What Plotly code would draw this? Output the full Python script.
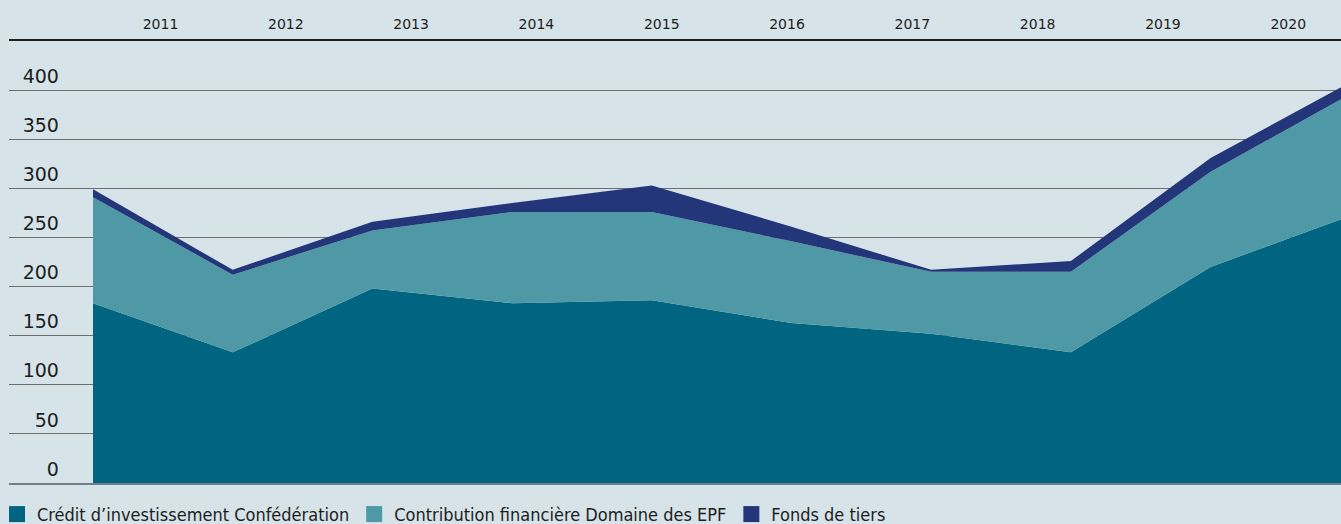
import plotly.graph_objects as go

years = [2011, 2012, 2013, 2014, 2015, 2016, 2017, 2018, 2019, 2020]
credit = [183, 133, 198, 183, 186, 163, 152, 133, 220, 272]
contribution = [108, 79, 59, 93, 90, 83, 63, 82, 97, 124]
fonds = [8, 5, 9, 9, 27, 15, 2, 11, 14, 12]
y_ticks = [0, 50, 100, 150, 200, 250, 300, 350, 400]
year_labels = [str(y) for y in years]

names = ["Crédit d’investissement Confédération",
         "Contribution financière Domaine des EPF",
         "Fonds de tiers"]
colors = ["#016581", "#4f98a6", "#24367a"]
series = [credit, contribution, fonds]

BG = "#d6e4ea"
TXT = "#1d1d1b"
FONT = "DejaVu Sans"

fig = go.Figure()
for name, col, vals in zip(names, colors, series):
    fig.add_trace(go.Scatter(x=years, y=vals, stackgroup="one", mode="none",
                             fillcolor=col, name=name, showlegend=False,
                             hoverinfo="x+y+name"))
# legend square markers
for name, col in zip(names, colors):
    fig.add_trace(go.Scatter(x=[None], y=[None], mode="markers", name=name,
                             marker=dict(symbol="square", size=16, color=col)))
# dummy traces to activate top axis and label axis
fig.add_trace(go.Scatter(x=[None], y=[None], xaxis="x2", showlegend=False, hoverinfo="skip"))
fig.add_trace(go.Scatter(x=[None], y=[None], yaxis="y2", showlegend=False, hoverinfo="skip"))

fig.update_layout(
    width=1341, height=524,
    margin=dict(l=9, r=0, t=41, b=41, autoexpand=False),
    paper_bgcolor=BG, plot_bgcolor=BG,
    font=dict(family=FONT, color=TXT),
    xaxis=dict(range=[2010.3987, 2019.9334], showgrid=False, zeroline=False,
               showticklabels=False, showline=True, linecolor="#6f7f87",
               linewidth=2, ticks="", automargin=False),
    xaxis2=dict(overlaying="x", side="top", anchor="y", range=[-1.209, 9.421],
                tickvals=list(range(len(years))), ticktext=year_labels,
                showgrid=False, zeroline=False, showline=True,
                linecolor="#1e1e1e", linewidth=1.5, ticks="", automargin=False,
                ticklabelstandoff=5, tickfont=dict(size=14, family=FONT, color=TXT)),
    yaxis=dict(range=[0, 450], tickvals=y_ticks, showgrid=True,
               gridcolor="#6e6e6e", gridwidth=1.3, zeroline=False,
               showticklabels=False, ticks="", automargin=False),
    yaxis2=dict(overlaying="y", anchor="free", side="left", position=0.0375,
                range=[0, 450], tickvals=y_ticks, showgrid=False, zeroline=False,
                showline=False, ticks="", ticklabelshift=-14, automargin=False,
                tickfont=dict(size=19, family=FONT, color=TXT)),
    legend=dict(orientation="h", x=-0.009, xanchor="left", y=-0.071, yanchor="middle",
                font=dict(size=18, family="DejaVu Sans Condensed, DejaVu Sans", color=TXT),
                bgcolor="rgba(0,0,0,0)", itemwidth=30, tracegroupgap=0,
                traceorder="normal"),
    showlegend=True,
)

fig.write_html("out.html", config={"displayModeBar": False},
               post_script="document.body.style.margin='0';document.body.style.overflow='hidden';")
